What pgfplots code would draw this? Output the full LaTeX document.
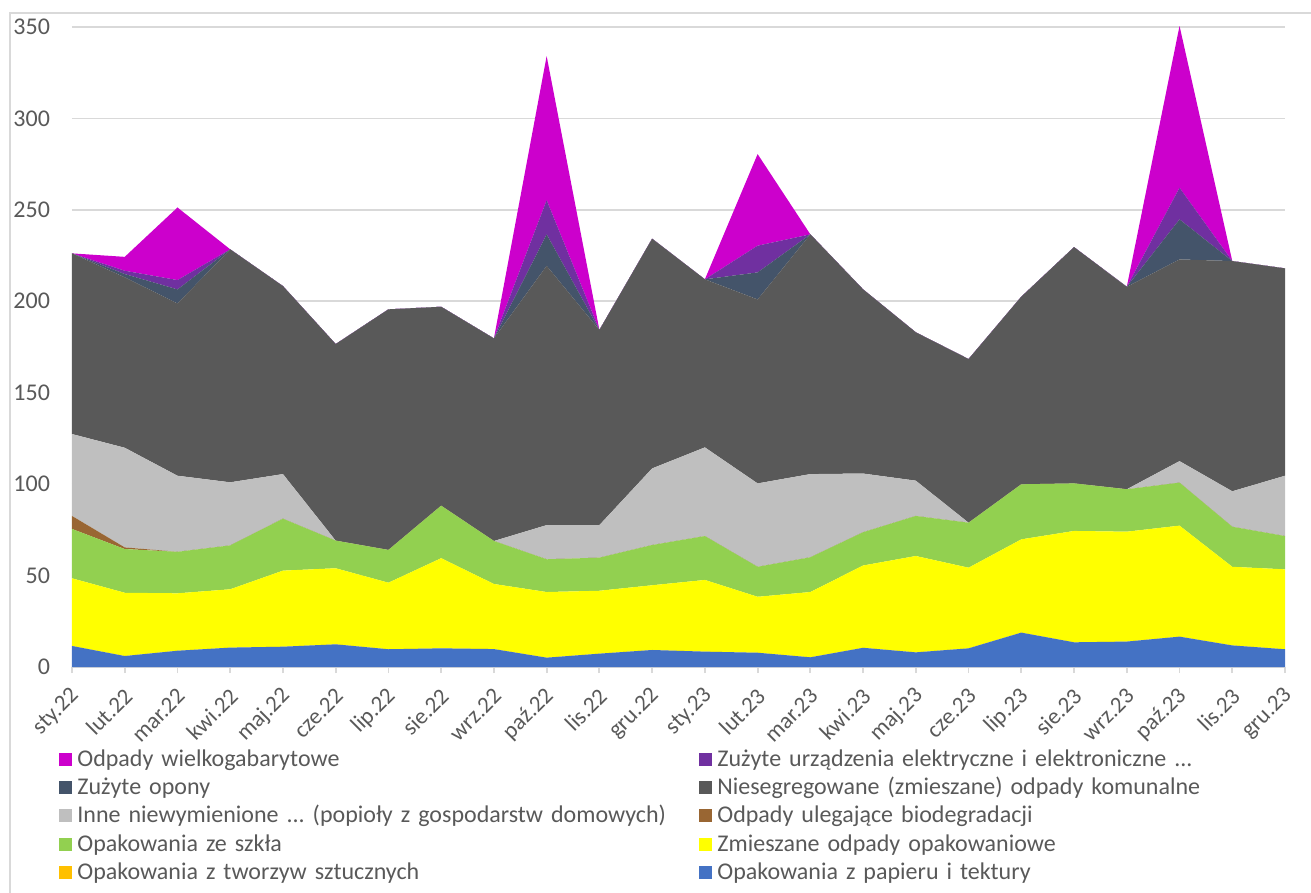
\documentclass[border=0pt]{standalone}
\usepackage{fontspec}
\setmainfont{Carlito}
\usepackage{pgfplots}
\usepackage{pgfplotstable}
\pgfplotsset{compat=1.18}

\definecolor{kPapier}{HTML}{4472C4}
\definecolor{kTworzywa}{HTML}{FFC000}
\definecolor{kZmieszane}{HTML}{FFFF00}
\definecolor{kSzklo}{HTML}{92D050}
\definecolor{kBio}{HTML}{996633}
\definecolor{kInne}{HTML}{BFBFBF}
\definecolor{kNieseg}{HTML}{595959}
\definecolor{kOpony}{HTML}{44546A}
\definecolor{kElektro}{HTML}{7030A0}
\definecolor{kGabaryt}{HTML}{CC00CC}
\definecolor{tekst}{HTML}{595959}
\definecolor{siatka}{HTML}{D9D9D9}

% miesiace 0 = sty.22 ... 23 = gru.23
\pgfplotstableread{
m  papier tworzywa zmieszane szklo bio inne nieseg opony elektro gabaryt
0  11.5 0 37.0 27.0 7.1 44.8 98.8  0    0    0
1  6.0  0 34.6 23.9 0.9 54.5 93.2  1.8  1.8  7.6
2  8.9  0 31.4 22.7 0   41.6 94.2  7.7  5.1  39.7
3  10.6 0 31.9 24.0 0   34.5 127.4 0    0    0
4  11.1 0 41.6 28.4 0   24.4 102.8 0    0    0
5  12.4 0 41.6 15.1 0   0    107.5 0    0    0
6  9.7  0 36.4 17.9 0   0    131.6 0    0    0
7  10.2 0 49.3 28.7 0   0    108.8 0    0    0
8  9.8  0 35.6 23.5 0   0    110.8 0    0    0
9  5.1  0 35.9 17.9 0   18.7 141.8 17.2 18.7 78.8
10 7.3  0 34.4 18.1 0   17.8 106.7 0    0    0
11 9.3  0 35.4 22.0 0   41.9 125.6 0    0    0
12 8.4  0 39.2 24.0 0   48.5 91.9  0    0    0
13 7.8  0 30.6 16.4 0   45.6 100.6 14.8 14.6 50.1
14 5.3  0 35.7 19.0 0   45.5 131.1 0    0    0
15 10.5 0 45.0 18.2 0   32.1 100.7 0    0    0
16 8.0  0 52.7 21.9 0   19.3 81.1  0    0    0
17 10.2 0 44.1 24.6 0   0    89.5  0    0    0
18 18.8 0 51.0 30.1 0   0    102.6 0    0    0
19 13.5 0 60.9 26.0 0   0    129.2 0    0    0
20 13.9 0 60.1 23.2 0   0    110.7 0    0    0
21 16.6 0 60.7 23.5 0   11.8 110.3 21.9 17.3 88.5
22 11.8 0 43.0 21.9 0   19.4 125.9 0    0    0
23 9.7  0 43.7 18.2 0   33.0 113.4 0    0    0
}\dane

\begin{document}
\frenchspacing
\begin{tikzpicture}[font=\fontsize{12}{14.4}\selectfont]
\begin{axis}[
  at={(0pt,0pt)}, anchor=south west,
  scale only axis,
  width=606.5pt, height=320pt,
  xmin=0, xmax=23, ymin=0, ymax=350,
  stack plots=y,
  xtick={0,...,23},
  xticklabels={sty.22,lut.22,mar.22,kwi.22,maj.22,cze.22,lip.22,sie.22,wrz.22,paź.22,lis.22,gru.22,sty.23,lut.23,mar.23,kwi.23,maj.23,cze.23,lip.23,sie.23,wrz.23,paź.23,lis.23,gru.23},
  ytick={0,50,...,350},
  axis line style={draw=none},
  ymajorgrids, grid style={siatka, line width=0.9pt},
  tick align=outside, major tick length=3pt,
  xtick pos=bottom, ytick pos=left,
  xtick style={siatka, line width=0.9pt},
  ytick style={draw=none},
  tick label style={font=\fontsize{12}{14.4}\selectfont, text=tekst},
  /pgf/number format/assume math mode=true,
  yticklabel style={xshift=-4.5pt},
  xticklabel style={font=\fontsize{11.5}{13.8}\selectfont, xshift=4pt, yshift=-7.5pt, rotate=45, anchor=east, inner sep=3pt},
  legend columns=2, reverse legend, legend cell align=left,
  legend style={at={(0,0)}, anchor=north west, xshift=-6.5pt, yshift=-41pt,
    draw=none, fill=none, inner sep=0pt, row sep=2.6pt,
    font=\fontsize{12}{14.4}\selectfont, text=tekst,
    nodes={text width=308.5pt, inner xsep=2.5pt, inner ysep=0pt, text height=8.5pt, text depth=3pt}},
  legend image code/.code={\fill[#1] (0pt,-2.5pt) rectangle (6.5pt,4pt);},
  every axis plot/.append style={draw=none},
]
\addplot[fill=kPapier] table[x=m, y=papier] {\dane} \closedcycle;
\addlegendentry{Opakowania z papieru i tektury}
\addplot[fill=kTworzywa] table[x=m, y=tworzywa] {\dane} \closedcycle;
\addlegendentry{Opakowania z tworzyw sztucznych}
\addplot[fill=kZmieszane] table[x=m, y=zmieszane] {\dane} \closedcycle;
\addlegendentry{Zmieszane odpady opakowaniowe}
\addplot[fill=kSzklo] table[x=m, y=szklo] {\dane} \closedcycle;
\addlegendentry{Opakowania ze szkła}
\addplot[fill=kBio] table[x=m, y=bio] {\dane} \closedcycle;
\addlegendentry{Odpady ulegające biodegradacji}
\addplot[fill=kInne] table[x=m, y=inne] {\dane} \closedcycle;
\addlegendentry{Inne niewymienione ... (popioły z gospodarstw domowych)}
\addplot[fill=kNieseg] table[x=m, y=nieseg] {\dane} \closedcycle;
\addlegendentry{Niesegregowane (zmieszane) odpady komunalne}
\addplot[fill=kOpony] table[x=m, y=opony] {\dane} \closedcycle;
\addlegendentry{Zużyte opony}
\addplot[fill=kElektro] table[x=m, y=elektro] {\dane} \closedcycle;
\addlegendentry{Zużyte urządzenia elektryczne i elektroniczne ...}
\addplot[fill=kGabaryt] table[x=m, y=gabaryt] {\dane} \closedcycle;
\addlegendentry{Odpady wielkogabarytowe}
\end{axis}
\draw[siatka, line width=0.9pt] (-31pt,-113pt) -- (-31pt,327pt) -- (619.5pt,327pt);
\pgfresetboundingbox
\path (-36pt,-113pt) rectangle (619.5pt,333.5pt);
\end{tikzpicture}
\end{document}
